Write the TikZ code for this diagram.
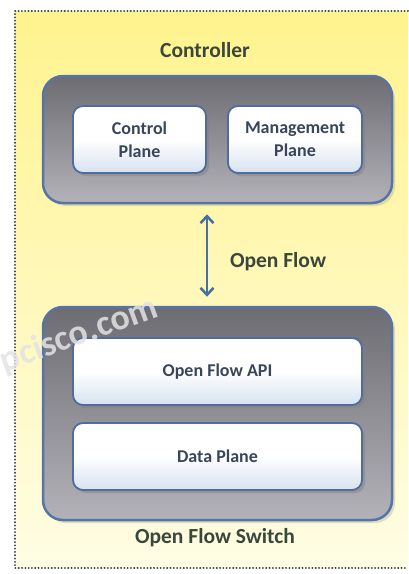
\documentclass[tikz,border=0pt]{standalone}
\usepackage{fontspec}
\setmainfont{Carlito}
\usetikzlibrary{arrows.meta,shadows}

\definecolor{framedot}{HTML}{343C4C}
\definecolor{paneltop}{HTML}{FFF38E}
\definecolor{panelbot}{HTML}{FFFDE4}
\definecolor{boxedge}{HTML}{5874A6}
\definecolor{greytop}{HTML}{6C6C72}
\definecolor{greybot}{HTML}{B2B2B8}
\definecolor{planeedge}{HTML}{4F6C9C}
\definecolor{planebot}{HTML}{D6E2F0}
\definecolor{titletext}{HTML}{3A473C}
\definecolor{planetext}{HTML}{38455A}
\definecolor{flowblue}{HTML}{4A70A2}

\begin{document}
\begin{tikzpicture}[x=1pt,y=-1pt,
  outerbox/.style={draw=boxedge, line width=2.5pt, rounded corners=20pt,
    top color=greytop, bottom color=greybot,
    drop shadow={shadow xshift=3pt, shadow yshift=-3pt, opacity=0.25}},
  planebox/.style={draw=planeedge, line width=1.8pt, rounded corners=10pt,
    top color=white, bottom color=planebot, middle color=white,
    drop shadow={shadow xshift=3pt, shadow yshift=-3pt, opacity=0.45},
    font=\fontsize{18}{23}\selectfont\bfseries, text=planetext, align=center},
  title/.style={font=\fontsize{21.5}{26}\selectfont\bfseries, text=titletext}]
\useasboundingbox (0,0) rectangle (408,574);

% background panel and dotted frame
\fill[white] (0,0) rectangle (408,574);
\shade[top color=paneltop, bottom color=panelbot] (15,11) rectangle (408,568);
\draw[framedot, line width=2pt, line cap=round, dash pattern=on 0.1pt off 3.2pt]
  (408,11) -- (15,11) -- (15,568) -- (408,568);

% controller
\node[title] (ctrltitle) at (205,50) {Controller};
\node[outerbox, minimum width=349pt, minimum height=127pt] (ctrl) at (217.5,139.5) {};
\node[planebox, minimum width=133pt, minimum height=67pt] (cplane) at (139.5,139.5) {Control\\Plane};
\node[planebox, minimum width=134pt, minimum height=67pt] (mplane) at (295,139.5) {Management\\Plane};

% switch
\node[outerbox, minimum width=349pt, minimum height=213pt] (switch) at (217.5,413.5) {};
\node[planebox, minimum width=289pt, minimum height=67pt] (api) at (217.5,371.5) {Open Flow API};
\node[planebox, minimum width=289pt, minimum height=67pt] (dplane) at (217.5,456.5) {Data Plane};
\node[title] (swtitle) at (215,538) {Open Flow Switch};

% open flow link
\draw[flowblue, line width=2.6pt, {Straight Barb[length=7pt,width=13pt]}-{Straight Barb[length=7pt,width=13pt]},
  shorten <=10pt, shorten >=9pt]
  ([xshift=-10.5pt]ctrl.south) -- ([xshift=-10.5pt]switch.north);
\node[title] (flowlbl) at (278,262) {Open Flow};

% watermark
\node[rotate=20, text=white!78!gray, opacity=0.85, font=\fontsize{36}{40}\selectfont\bfseries] (mark) at (79,335) {pcisco.com};
\end{tikzpicture}
\end{document}
